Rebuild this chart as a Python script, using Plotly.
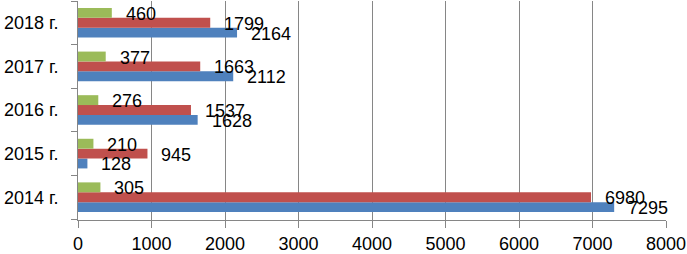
import plotly.graph_objects as go

categories = ["2014 г.", "2015 г.", "2016 г.", "2017 г.", "2018 г."]
series_blue = [7295, 128, 1628, 2112, 2164]
series_red = [6980, 945, 1537, 1663, 1799]
series_green = [305, 210, 276, 377, 460]
x_ticks = [0, 1000, 2000, 3000, 4000, 5000, 6000, 7000, 8000]

FONT = "Liberation Sans"
series = [
    ("blue", series_blue, "#4F81BD", -9.8),
    ("red", series_red, "#C0504D", 0),
    ("green", series_green, "#9BBB59", 9.8),
]

fig = go.Figure()
annotations = []
for name, vals, color, yshift in series:
    fig.add_trace(go.Bar(
        y=categories, x=vals, orientation="h", name=name,
        marker=dict(color=color, line=dict(width=0)),
    ))
    for c, v in zip(categories, vals):
        annotations.append(dict(
            x=v, y=c, xref="x", yref="y", text=str(v), showarrow=False,
            xanchor="left", yanchor="middle", xshift=12, yshift=yshift - 1,
            font=dict(family=FONT, size=18, color="black"),
        ))

fig.update_layout(
    width=687, height=254,
    margin=dict(l=78, r=21, t=1, b=34, autoexpand=False),
    barmode="group", bargap=0.32, bargroupgap=0,
    showlegend=False,
    plot_bgcolor="white", paper_bgcolor="white",
    annotations=annotations,
    font=dict(family=FONT, size=18, color="black"),
)
fig.update_xaxes(
    range=[0, 8000], tickvals=x_ticks, ticktext=[str(t) for t in x_ticks],
    showgrid=True, gridcolor="#868686", gridwidth=1,
    showline=True, linecolor="#868686", linewidth=1,
    ticks="outside", ticklen=7, tickcolor="#868686",
    zeroline=False, tickfont=dict(family=FONT, size=18, color="black"),
    automargin=False,
)
fig.update_yaxes(
    categoryorder="array", categoryarray=categories,
    showgrid=False, showline=True, linecolor="#868686", linewidth=1,
    ticks="outside", ticklen=6, tickcolor="#868686", tickson="boundaries",
    ticklabelstandoff=15, automargin=False,
    tickfont=dict(family=FONT, size=18, color="black"),
)
fig.write_html(
    "out.html",
    config={"displayModeBar": False},
    post_script="document.body.style.margin='0';document.body.style.overflow='hidden';",
)
